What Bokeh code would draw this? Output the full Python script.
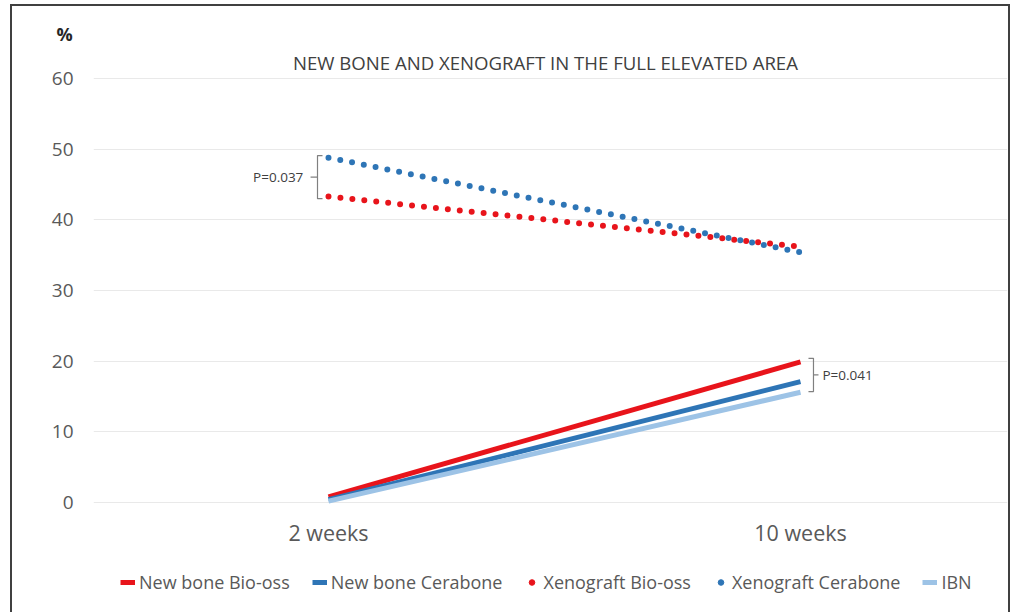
from bokeh.plotting import figure
from bokeh.models import (Range1d, FixedTicker, Legend, LegendItem, Label)
from bokeh.embed import file_html
from bokeh.resources import INLINE

categories = ["2 weeks", "10 weeks"]
new_bone_bio_oss = [0.8, 19.9]
new_bone_cerabone = [0.4, 17.1]
xeno_bio_oss = [43.3, 36.2]
xeno_cerabone = [48.8, 35.4]
ibn = [0.2, 15.6]
y_ticks = [0, 10, 20, 30, 40, 50, 60]
p_left = "P=0.037"
p_right = "P=0.041"
title_text = "NEW BONE AND XENOGRAFT IN THE FULL ELEVATED AREA"
y_unit = "%"

FONT = "Open Sans"
RED = "#e8141b"
BLUE = "#2e75b6"
LBLUE = "#9dc3e6"
EDGE = "#404040"

xs = list(range(len(categories)))

p = figure(width=1010, height=612, output_backend="svg", toolbar_location=None,
           x_range=Range1d(-0.49788, 1.43856), y_range=Range1d(-15.566, 64.67),
           min_border_left=93, min_border_right=3, min_border_top=45, min_border_bottom=0)
p.outline_line_color = None
p.background_fill_color = None
p.border_fill_color = None
p.styles = {
    "background-image": ("linear-gradient(%s,%s), linear-gradient(%s,%s), linear-gradient(%s,%s)"
                         % (EDGE, EDGE, EDGE, EDGE, EDGE, EDGE)),
    "background-position": "10px 4px, 10px 4px, 1008px 4px",
    "background-size": "2px 100%, 999px 2px, 2px 100%",
    "background-repeat": "no-repeat",
}

p.xgrid.visible = False
p.ygrid.ticker = FixedTicker(ticks=y_ticks)
p.ygrid.grid_line_color = "#e9e9e9"
p.ygrid.grid_line_width = 1

p.yaxis.ticker = FixedTicker(ticks=y_ticks)
p.xaxis.ticker = FixedTicker(ticks=xs)
p.xaxis.major_label_overrides = {i: c for i, c in enumerate(categories)}
p.xaxis.fixed_location = 0
for ax in (p.xaxis, p.yaxis):
    ax.axis_line_color = None
    ax.major_tick_line_color = None
    ax.minor_tick_line_color = None
    ax.major_label_text_font = FONT
    ax.major_label_text_color = "#595959"
p.yaxis.major_label_text_font_size = "19px"
p.yaxis.major_label_standoff = 14
p.xaxis.major_label_text_font_size = "21.5px"
p.xaxis.major_label_standoff = 9

r1 = p.line(xs, new_bone_bio_oss, line_color=RED, line_width=5)
r2 = p.line(xs, new_bone_cerabone, line_color=BLUE, line_width=5)
p.line(xs, xeno_bio_oss, line_color=RED, line_width=6, line_dash="0 12", line_cap="round")
p.line(xs, xeno_cerabone, line_color=BLUE, line_width=6, line_dash="0 12", line_cap="round")
r3 = p.scatter(xs, xeno_bio_oss, size=6, color=RED, visible=False)
r4 = p.scatter(xs, xeno_cerabone, size=6, color=BLUE, visible=False)
r5 = p.line(xs, ibn, line_color=LBLUE, line_width=5)

# brackets
BR = "#808080"
xv = xs[0] - 0.0233
top = xeno_cerabone[0] + 0.3
bot = xeno_bio_oss[0] - 0.3
p.line([xv + 0.0106, xv, xv, xv + 0.0106], [top, top, bot, bot], line_color=BR, line_width=1.2)
p.line([xv, xv - 0.0147], [(top + bot) / 2] * 2, line_color=BR, line_width=1.2)
p.add_layout(Label(x=xv - 0.03, y=(top + bot) / 2, text=p_left, text_align="right",
                   text_baseline="middle", text_font=FONT, text_font_size="13.5px",
                   text_color="#404040"))

xv2 = xs[1] + 0.0275
top2 = new_bone_bio_oss[1] + 0.5
bot2 = ibn[1] + 0.1
p.line([xv2 - 0.0106, xv2, xv2, xv2 - 0.0106], [top2, top2, bot2, bot2], line_color=BR, line_width=1.2)
p.line([xv2, xv2 + 0.0106], [(top2 + bot2) / 2] * 2, line_color=BR, line_width=1.2)
p.add_layout(Label(x=xv2 + 0.019, y=(top2 + bot2) / 2, text=p_right, text_align="left",
                   text_baseline="middle", text_font=FONT, text_font_size="13.5px",
                   text_color="#404040"))

# chart title (inside frame area above the 60 line)
p.add_layout(Label(x=0.4597, y=62.25, text=title_text, text_align="center",
                   text_baseline="middle", text_font=FONT, text_font_size="18.6px",
                   text_color="#404040"))

# unit label as the plot title
p.title.text = y_unit
p.title.align = "left"
p.title.offset = -37
p.title.standoff = 0
p.title.text_font = FONT
p.title.text_font_size = "18px"
p.title.text_font_style = "bold"
p.title.text_color = "#262626"

legend = Legend(items=[
    LegendItem(label="New bone Bio-oss", renderers=[r1]),
    LegendItem(label="New bone Cerabone", renderers=[r2]),
    LegendItem(label="Xenograft Bio-oss", renderers=[r3]),
    LegendItem(label="Xenograft Cerabone", renderers=[r4]),
    LegendItem(label="IBN", renderers=[r5]),
], orientation="horizontal", location=(27, 18), padding=0, margin=0,
    spacing=22, label_standoff=4, glyph_width=15, glyph_height=14,
    label_text_font=FONT, label_text_font_size="18px", label_text_color="#595959",
    border_line_color=None, background_fill_alpha=0)
p.add_layout(legend, "center")

open("out.html", "w").write(file_html(p, INLINE))
